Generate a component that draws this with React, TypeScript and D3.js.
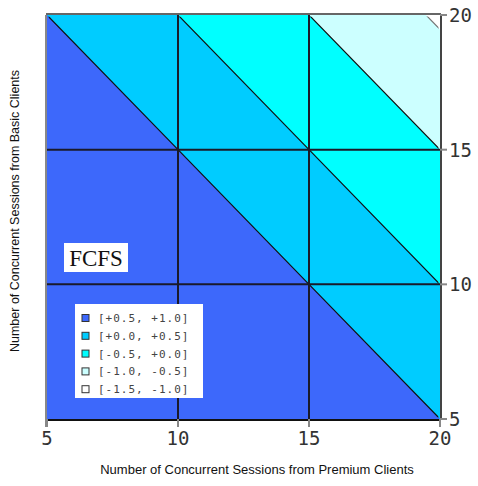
import React from 'react';
import * as d3 from 'd3';

// sampled response (premium sessions across, basic sessions down from top)
const premium = [5, 10, 15, 20];
const basic = [20, 15, 10, 5];
const rows = [
    [0.5, 0.0, -0.5, -1.06],
    [1.0, 0.5, 0.0, -0.5],
    [1.5, 1.0, 0.5, 0.0],
    [2.0, 1.5, 1.0, 0.5],
];
const thresholds = [-1.5, -1.0, -0.5, 0.0, 0.5];
const bandColors = ['#ffffff', '#ccffff', '#00ffff', '#00ccff', '#3d68fb'];
const legendLabels = ['[+0.5, +1.0]', '[+0.0, +0.5]', '[-0.5, +0.0]', '[-1.0, -0.5]', '[-1.5, -1.0]'];
const ticks = [5, 10, 15, 20];
const gridLines = [10, 15];

const W = 478, H = 486;
const left = 47, right = 440, top = 15, bottom = 419;

export default function App() {
    const x = d3.scaleLinear().domain([5, 20]).range([left, right]);
    const y = d3.scaleLinear().domain([5, 20]).range([bottom, top]);

    const nx = premium.length, ny = basic.length;
    const values = rows.flat();
    const contours = d3.contours().size([nx, ny]).thresholds(thresholds)(values);

    // grid coordinate c -> data value (samples sit at c = i + 0.5)
    const px = (c) => x(premium[0] + (premium[1] - premium[0]) * (c - 0.5));
    const py = (c) => y(basic[0] + (basic[1] - basic[0]) * (c - 0.5));
    const proj = d3.geoTransform({
        point: function (a, b) { this.stream.point(px(a), py(b)); },
    });
    const path = d3.geoPath(proj);

    return (
        <svg width={W} height={H} style={{ position: 'absolute', left: 0, top: 0, background: '#fff' }}>
            <defs>
                <clipPath id="plot">
                    <rect x={left} y={top} width={right - left} height={bottom - top} />
                </clipPath>
                <clipPath id="inner">
                    <rect x={left + 1.5} y={top + 1.5} width={right - left - 3} height={bottom - top - 3} />
                </clipPath>
            </defs>
            <g clipPath="url(#plot)">
                {contours.map((c, i) => (
                    <path key={i} d={path(c)} fill={bandColors[i]} />
                ))}
            </g>
            <g clipPath="url(#inner)">
                {contours.slice(1).map((c, i) => (
                    <path key={i} d={path(c)} fill="none" stroke={i === 0 ? '#777' : '#111'} strokeWidth={1.2} />
                ))}
            </g>
            {gridLines.map(g => (
                <g key={g}>
                    <line x1={x(g)} x2={x(g)} y1={top} y2={bottom} stroke="#1a1a2a" strokeWidth={2} />
                    <line x1={left} x2={right} y1={y(g)} y2={y(g)} stroke="#1a1a2a" strokeWidth={2} />
                </g>
            ))}
            <line x1={left - 1} x2={left - 1} y1={top} y2={bottom + 8} stroke="#888" strokeWidth={2} />
            <line x1={left - 1} x2={right + 1} y1={top - 1} y2={top - 1} stroke="#666" strokeWidth={2} />
            <line x1={right + 1} x2={right + 1} y1={top - 1} y2={bottom + 1} stroke="#444" strokeWidth={2} />
            <line x1={left} x2={right + 1} y1={bottom + 1} y2={bottom + 1} stroke="#111" strokeWidth={2} />
            {ticks.map(t => (
                <g key={t}>
                    <line x1={x(t)} x2={x(t)} y1={bottom} y2={bottom + 8} stroke="#888" strokeWidth={2} />
                    <text x={x(t)} y={445} textAnchor="middle" fontFamily="DejaVu Sans Mono" fontSize={19} fill="#333">{t}</text>
                    <line x1={right} x2={right + 7} y1={y(t)} y2={y(t)} stroke="#888" strokeWidth={2} />
                    <text x={right + 9} y={y(t) + 7} textAnchor="start" fontFamily="DejaVu Sans Mono" fontSize={19} fill="#333">{t}</text>
                </g>
            ))}
            <rect x={64} y={243} width={64} height={29} fill="#fff" />
            <text x={96} y={266} textAnchor="middle" fontFamily="Liberation Serif" fontSize={23} fill="#111">FCFS</text>
            <rect x={75} y={304} width={128} height={94} fill="#fff" />
            {legendLabels.map((l, i) => (
                <g key={l} transform={`translate(0,${318 + i * 17.8})`}>
                    <rect x={82} y={-3.5} width={7} height={7} fill={bandColors[bandColors.length - 1 - i]} stroke="#333" strokeWidth={1} />
                    <text x={98} y={4} fontFamily="DejaVu Sans Mono" fontSize={11} letterSpacing={1} fill="#444">{l}</text>
                </g>
            ))}
            <text x={257} y={474} textAnchor="middle" fontFamily="Liberation Sans" fontSize={13} fill="#111">
                Number of Concurrent Sessions from Premium Clients
            </text>
            <text transform="translate(19,211) rotate(-90)" textAnchor="middle" fontFamily="Liberation Sans" fontSize={12.5} fill="#111">
                Number of Concurrent Sessions from Basic Clients
            </text>
        </svg>
    );
}
